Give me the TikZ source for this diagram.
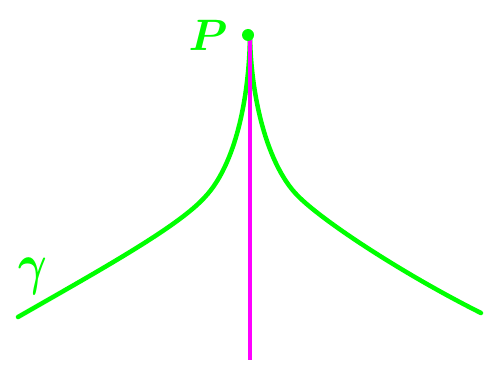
\documentclass[tikz,border=0pt]{standalone}
\usepackage{bm}
\definecolor{curvegreen}{RGB}{0,255,0}
\definecolor{linemag}{RGB}{255,0,255}
\begin{document}
\begin{tikzpicture}[x=1pt,y=-1pt,
  curve/.style={draw=curvegreen, line width=4.5pt, line cap=round, line join=round},
  axisline/.style={draw=linemag, line width=4pt},
  lbl/.style={text=curvegreen, scale=4.4}]
\useasboundingbox (0,0) rectangle (484,366);
\coordinate (P) at (250,36);
\coordinate (B) at (250,360);
\coordinate (L) at (18,317);
\coordinate (R) at (481,313);
\draw[curve] (P) .. controls (249,100) and (235,165) .. (205,197)
  .. controls (178,227) and (100,270) .. (L);
\draw[curve] (P) .. controls (251,100) and (268,165) .. (297,195)
  .. controls (322,221) and (405,275) .. (R);
\draw[axisline] (P) -- (B);
\fill[curvegreen] (248,35) circle (6);
\node[lbl] (Plabel) at (208,35) {$\bm{P}$};
\node[lbl, xscale=1, yscale=1.3] (glabel) at (33,276) {$\bm{\gamma}$};
\end{tikzpicture}
\end{document}
